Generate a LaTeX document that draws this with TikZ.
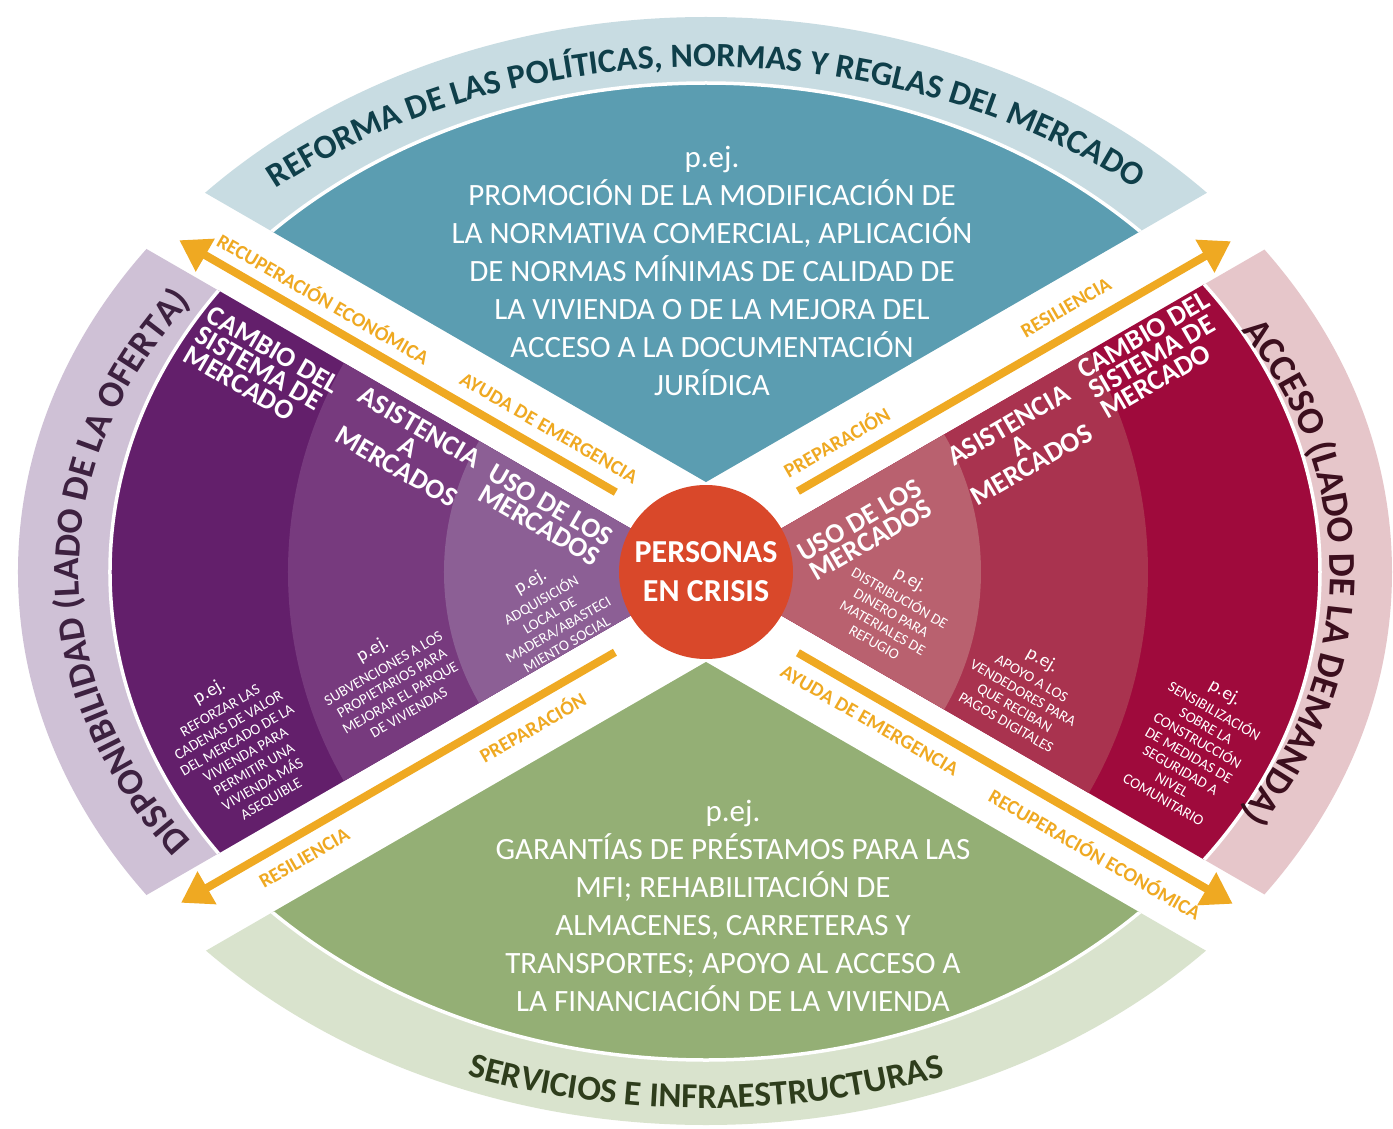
\documentclass[tikz,border=0pt]{standalone}
\usepackage{fontspec}
\setmainfont{Carlito}
\usetikzlibrary{calc,arrows.meta,decorations.text}
\definecolor{topband}{HTML}{C8DCE2}
\definecolor{tealc}{HTML}{5B9DB1}
\definecolor{toptitle}{HTML}{0F3F4A}
\definecolor{greenc}{HTML}{94AF75}
\definecolor{botband}{HTML}{D9E3CD}
\definecolor{bottitle}{HTML}{2E3D1C}
\definecolor{lilac}{HTML}{CFC1D6}
\definecolor{purA}{HTML}{631F6B}
\definecolor{purB}{HTML}{773A7E}
\definecolor{purC}{HTML}{8C5F95}
\definecolor{lefttitle}{HTML}{3D2140}
\definecolor{pinkband}{HTML}{E6C6CA}
\definecolor{crA}{HTML}{9F0A3C}
\definecolor{crB}{HTML}{A9334F}
\definecolor{crC}{HTML}{B9616F}
\definecolor{righttitle}{HTML}{3C0F1E}
\definecolor{redc}{HTML}{D9482A}
\definecolor{orangec}{HTML}{EFA922}
\newcommand{\pejtxt}{{\fontsize{19}{19}\selectfont p.ej.}}
\tikzset{
  hdr/.style={text=white, font=\bfseries\fontsize{28}{23}\selectfont, align=center, inner sep=0pt},
  body/.style={text=white, font=\fontsize{15}{17}\selectfont, align=center, inner sep=0pt},
  lbl/.style={text=orangec, font=\bfseries\fontsize{20}{20}\selectfont, inner sep=0pt},
  arr/.style={draw=orangec, line width=8pt, -{Triangle[width=36pt,length=30pt]}},
  big/.style={text=white, font=\fontsize{31}{38}\selectfont, align=center, inner sep=0pt},
  sep/.style={draw=white, line width=3.5pt}
}
\begin{document}
\begin{tikzpicture}[x=1pt,y=1pt]
\useasboundingbox (-706,-556) rectangle (687,572);
\fill[white] (-706,-556) rectangle (687,572);

% top sector
\begin{scope}
  \clip (0,90) -- ($(0,90)+(150:1500)$) -- ($(0,90)+(30:1500)$) -- cycle;
  \fill[topband] (0,0) ellipse [x radius=686, y radius=555];
  \fill[tealc, sep] (0,0) ellipse [x radius=605, y radius=489];
\end{scope}
% bottom sector
\begin{scope}
  \clip (0,-90) -- ($(0,-90)+(210:1500)$) -- ($(0,-90)+(330:1500)$) -- cycle;
  \fill[botband] (0,0) ellipse [x radius=686, y radius=553];
  \fill[greenc, sep] (0,0) ellipse [x radius=605, y radius=488];
\end{scope}
% left sector
\begin{scope}
  \clip (0,0) -- (150:1500) -- (210:1500) -- cycle;
  \fill[lilac] (0,0) ellipse [x radius=688, y radius=555];
  \fill[purA, sep] (0,0) ellipse [x radius=596, y radius=489];
  \fill[purB] (0,0) circle [radius=418];
  \fill[purC] (0,0) circle [radius=262];
\end{scope}
% right sector
\begin{scope}
  \clip (0,0) -- (30:1500) -- (-30:1500) -- cycle;
  \fill[pinkband] (0,0) ellipse [x radius=686, y radius=555];
  \fill[crA, sep] (0,0) ellipse [x radius=614, y radius=492];
  \fill[crB] (0,0) circle [radius=442];
  \fill[crC] (0,0) circle [radius=275];
\end{scope}

% band titles
\path[decorate, decoration={text along path, text align=center,
  text={|\fontsize{34}{34}\selectfont\bfseries\color{toptitle}|REFORMA DE LAS POLÍTICAS, NORMAS Y REGLAS DEL MERCADO}}]
  (160:660 and 505) arc [start angle=160, end angle=20, x radius=660, y radius=505];
\path[decorate, decoration={text along path, text align=center,
  text={|\fontsize{35}{35}\selectfont\bfseries\color{bottitle}|SERVICIOS E INFRAESTRUCTURAS}}]
  (200:700 and 536) arc [start angle=200, end angle=340, x radius=700, y radius=536];
\path[decorate, decoration={text along path, text align=center,
  text={|\fontsize{37}{37}\selectfont\bfseries\color{lefttitle}|DISPONIBILIDAD (LADO DE LA OFERTA)}}]
  (222:627 and 472) arc [start angle=222, end angle=138, x radius=627, y radius=472];
\path[decorate, decoration={text along path, text align=center,
  text={|\fontsize{38}{38}\selectfont\bfseries\color{righttitle}|ACCESO (LADO DE LA DEMANDA)}}]
  (42:624 and 470) arc [start angle=42, end angle=-42, x radius=624, y radius=470];

% centre
\node[circle, fill=redc, minimum size=174pt, inner sep=0pt, text=white,
  font=\bfseries\fontsize{32}{39}\selectfont, align=center] (core) at (0,0) {PERSONAS\\EN CRISIS};

% arrows
\coordinate (ulS) at ($(150:118)+(60:24)$);
\coordinate (ulE) at ($(150:622)+(60:24)$);
\coordinate (urS) at ($(30:120)+(120:24)$);
\coordinate (urE) at ($(30:620)+(120:24)$);
\coordinate (llS) at ($(210:119)+(300:24)$);
\coordinate (llE) at ($(210:620)+(300:24)$);
\coordinate (lrS) at ($(330:120)+(240:24)$);
\coordinate (lrE) at ($(330:622)+(240:24)$);
\draw[arr] (ulS) -- (ulE);
\draw[arr] (urS) -- (urE);
\draw[arr] (llS) -- (llE);
\draw[arr] (lrS) -- (lrE);

% arrow labels
\node[lbl, rotate=-30] (ul1) at ($(150:208)+(60:46)$) {AYUDA DE EMERGENCIA};
\node[lbl, rotate=-30] (ul2) at ($(150:468)+(60:46)$) {RECUPERACIÓN ECONÓMICA};
\node[lbl, rotate=30] (ur1) at ($(30:178)+(120:48)$) {PREPARACIÓN};
\node[lbl, rotate=30] (ur2) at ($(30:444)+(120:49)$) {RESILIENCIA};
\node[lbl, rotate=30] (ll1) at ($(210:228)+(300:47)$) {PREPARACIÓN};
\node[lbl, rotate=30] (ll2) at ($(210:491)+(300:47)$) {RESILIENCIA};
\node[lbl, rotate=-30] (lr1) at ($(330:216)+(240:47)$) {AYUDA DE EMERGENCIA};
\node[lbl, rotate=-30] (lr2) at ($(330:478)+(240:49)$) {RECUPERACIÓN ECONÓMICA};

% big texts
\node[big] (toptext) at (6,301) {p.ej.\\PROMOCIÓN DE LA MODIFICACIÓN DE\\LA NORMATIVA COMERCIAL, APLICACIÓN\\DE NORMAS MÍNIMAS DE CALIDAD DE\\LA VIVIENDA O DE LA MEJORA DEL\\ACCESO A LA DOCUMENTACIÓN\\JURÍDICA};
\node[big] (bottext) at (27,-334) {p.ej.\\GARANTÍAS DE PRÉSTAMOS PARA LAS\\MFI; REHABILITACIÓN DE\\ALMACENES, CARRETERAS Y\\TRANSPORTES; APOYO AL ACCESO A\\LA FINANCIACIÓN DE LA VIVIENDA};

% headers
\node[hdr, rotate=-30, align=left] (lh1) at (-444,202) {CAMBIO DEL\\SISTEMA DE\\MERCADO};
\node[hdr, rotate=-30] (lh2) at (-298,125) {ASISTENCIA\\A\\MERCADOS};
\node[hdr, rotate=-30] (lh3) at (-161,57) {USO DE LOS\\MERCADOS};
\node[hdr, rotate=30] (rh3) at (159,42) {USO DE LOS\\MERCADOS};
\node[hdr, rotate=30] (rh2) at (314,127) {ASISTENCIA\\A\\MERCADOS};
\node[hdr, rotate=30, align=left] (rh1) at (449,217) {CAMBIO DEL\\SISTEMA DE\\MERCADO};

% bodies
\node[body, rotate=30] (lb1) at (-466,-173) {\pejtxt\\[4pt]REFORZAR LAS\\CADENAS DE VALOR\\DEL MERCADO DE LA\\VIVIENDA PARA\\PERMITIR UNA\\VIVIENDA MÁS\\ASEQUIBLE};
\node[body, rotate=30] (lb2) at (-316,-108) {\pejtxt\\[4pt]SUBVENCIONES A LOS\\PROPIETARIOS PARA\\MEJORAR EL PARQUE\\DE VIVIENDAS};
\node[body, rotate=30] (lb3) at (-158,-40) {\pejtxt\\[4pt]ADQUISICIÓN\\LOCAL DE\\MADERA/ABASTECI\\MIENTO SOCIAL};
\node[body, rotate=-30] (rb3) at (187,-38) {\pejtxt\\[4pt]DISTRIBUCIÓN DE\\DINERO PARA\\MATERIALES DE\\REFUGIO};
\node[body, rotate=-30] (rb2) at (319,-118) {\pejtxt\\[4pt]APOYO A LOS\\VENDEDORES PARA\\QUE RECIBAN\\PAGOS DIGITALES};
\node[body, rotate=-30] (rb1) at (489,-173) {\pejtxt\\[4pt]SENSIBILIZACIÓN\\SOBRE LA\\CONSTRUCCIÓN\\DE MEDIDAS DE\\SEGURIDAD A\\NIVEL\\COMUNITARIO};
\end{tikzpicture}
\end{document}
